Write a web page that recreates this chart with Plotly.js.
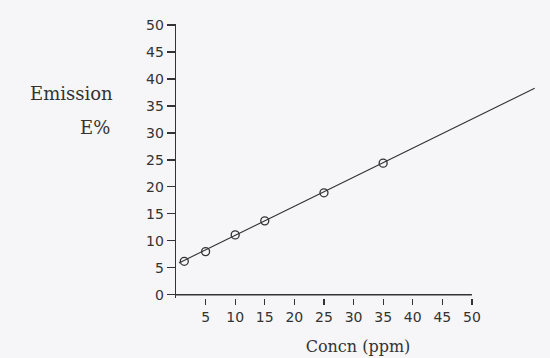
<!DOCTYPE html>
<html>
<head>
<meta charset="utf-8">
<script src="https://cdn.plot.ly/plotly-3.0.1.min.js"></script>
<style>html,body{margin:0;padding:0;background:#f6f6f8;}#chart{width:550px;height:358px;}</style>
</head>
<body>
<div id="chart"></div>
<script>
// Data
const concn = [1.4, 5, 10, 15, 25, 35];
const emission = [6.2, 8.0, 11.1, 13.7, 18.9, 24.4];
// Drawn calibration line (end points)
const fitLineX = [0.5, 60.6];
const fitLineY = [5.9, 38.3];
// Tick labels
const xTicks = [5, 10, 15, 20, 25, 30, 35, 40, 45, 50];
const yTicks = [0, 5, 10, 15, 20, 25, 30, 35, 40, 45, 50];

const ink = '#333333';

const traces = [
  {
    x: fitLineX, y: fitLineY, mode: 'lines', type: 'scatter',
    line: {color: ink, width: 1.1}, hoverinfo: 'skip', showlegend: false
  },
  {
    x: concn, y: emission, mode: 'markers', type: 'scatter',
    marker: {symbol: 'circle-open', size: 8, color: ink, line: {width: 1.3, color: ink}},
    showlegend: false
  }
];

const layout = {
  width: 550, height: 358,
  paper_bgcolor: '#f6f6f8', plot_bgcolor: '#f6f6f8',
  margin: {l: 176, r: 10, t: 24, b: 60},
  showlegend: false,
  font: {family: 'DejaVu Sans, sans-serif', color: '#333'},
  xaxis: {
    range: [0, 61.5], showgrid: false, zeroline: false, showline: false,
    tickmode: 'array', tickvals: xTicks, ticktext: xTicks.map(String),
    ticks: 'outside', ticklen: 6, tickwidth: 1.2, tickcolor: ink,
    ticklabelstandoff: 0,
    tickfont: {size: 14, color: '#333', family: 'DejaVu Sans, sans-serif'},
    title: {text: 'Concn (ppm)', font: {family: 'DejaVu Serif, serif', size: 16, color: '#333'}, standoff: 17}
  },
  yaxis: {
    range: [-0.6, 50.2], showgrid: false, zeroline: false,
    showline: true, linecolor: ink, linewidth: 1.3,
    tickmode: 'array', tickvals: yTicks, ticktext: yTicks.map(String),
    ticks: 'outside', ticklen: 8, tickwidth: 1.2, tickcolor: ink,
    tickfont: {size: 14, color: '#333', family: 'DejaVu Sans, sans-serif'}
  },
  shapes: [
    {type: 'line', xref: 'x', yref: 'y', x0: 0, x1: xTicks[xTicks.length - 1], y0: 0, y1: 0,
     line: {color: ink, width: 1.3}}
  ],
  annotations: [
    {text: 'Emission', xref: 'paper', yref: 'paper', x: -0.288, y: 0.748, showarrow: false,
     xanchor: 'center', yanchor: 'middle',
     font: {family: 'DejaVu Serif, serif', size: 18, color: '#333'}},
    {text: 'E%', xref: 'paper', yref: 'paper', x: -0.222, y: 0.624, showarrow: false,
     xanchor: 'center', yanchor: 'middle',
     font: {family: 'DejaVu Serif, serif', size: 18, color: '#333'}}
  ]
};

Plotly.newPlot('chart', traces, layout, {displayModeBar: false, staticPlot: true});
</script>
</body>
</html>
